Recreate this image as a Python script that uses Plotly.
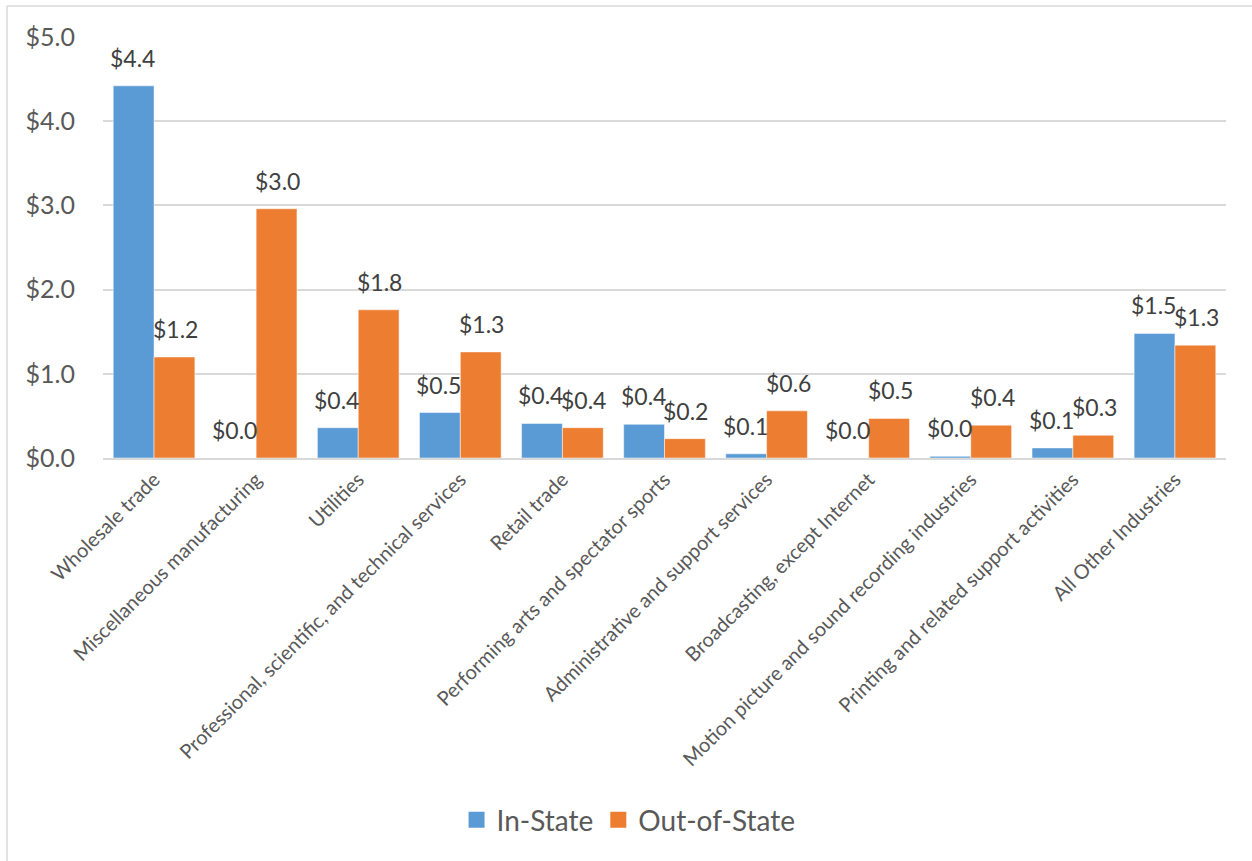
import plotly.graph_objects as go

categories = [
    "Wholesale trade",
    "Miscellaneous manufacturing",
    "Utilities",
    "Professional, scientific, and technical services",
    "Retail trade",
    "Performing arts and spectator sports",
    "Administrative and support services",
    "Broadcasting, except Internet",
    "Motion picture and sound recording industries",
    "Printing and related support activities",
    "All Other Industries",
]
in_state = [4.42, 0.0, 0.36, 0.54, 0.41, 0.40, 0.05, 0.0, 0.02, 0.12, 1.48]
out_state = [1.20, 2.96, 1.76, 1.26, 0.36, 0.23, 0.56, 0.47, 0.39, 0.27, 1.34]
y_ticks = [0, 1, 2, 3, 4, 5]
y_tick_labels = ["$0.0", "$1.0", "$2.0", "$3.0", "$4.0", "$5.0"]

FONT = "Lato"
GREY = "#595959"
BLUE = "#5b9bd5"
ORANGE = "#ed7d31"

L, R, T, B = 103, 26, 37, 403
W, H = 1252, 861
pw, ph = W - L - R, H - T - B
BARGAP = 0.2
bar_px = pw / len(categories) * (1 - BARGAP) / 2


def px_x(x):
    return (x - L) / pw


def px_y(y):
    return (H - B - y) / ph


fig = go.Figure()
series = [("In-State", in_state, BLUE, -1), ("Out-of-State", out_state, ORANGE, 1)]
annotations = []
for name, vals, color, side in series:
    fig.add_trace(go.Bar(
        x=categories, y=vals, name=name, showlegend=False,
        marker=dict(color=color, line=dict(color="white", width=0.5)),
    ))
    # legend proxy with larger square
    fig.add_trace(go.Scatter(
        x=[None], y=[None], mode="markers", name=name,
        marker=dict(symbol="square", size=18, color=color),
    ))
    for c, v in zip(categories, vals):
        annotations.append(dict(
            x=c, y=v, xref="x", yref="y", text=f"${v:.1f}",
            showarrow=False, xanchor="center", yanchor="bottom",
            xshift=side * (bar_px / 2 + 1), yshift=12,
            font=dict(family=FONT, size=23, color="#404040"),
        ))

fig.update_layout(
    width=W, height=H,
    margin=dict(l=L, r=R, t=T, b=B, pad=0),
    plot_bgcolor="white", paper_bgcolor="white",
    barmode="group", bargap=BARGAP, bargroupgap=0,
    font=dict(family=FONT, color=GREY),
    showlegend=True,
    legend=dict(orientation="h", x=0.468, xanchor="center", y=px_y(820), yanchor="middle",
                font=dict(family=FONT, size=28, color=GREY), itemwidth=30,
                traceorder="normal"),
    xaxis=dict(tickangle=-45, tickfont=dict(family=FONT, size=20, color=GREY),
               showgrid=False, showline=True, linecolor="#d9d9d9", linewidth=2,
               ticks=""),
    yaxis=dict(range=[0, 5], tickvals=y_ticks, ticktext=y_tick_labels,
               tickfont=dict(family=FONT, size=25, color=GREY),
               showgrid=True, gridcolor="#d9d9d9", gridwidth=1.5,
               zeroline=False, showline=False, ticks="", ticklabelstandoff=27),
    annotations=annotations,
    shapes=[
        dict(type="line", xref="paper", yref="paper",
             x0=px_x(7), x1=px_x(7), y0=px_y(6), y1=px_y(870),
             line=dict(color="#d9d9d9", width=1.5)),
        dict(type="line", xref="paper", yref="paper",
             x0=px_x(7), x1=px_x(1260), y0=px_y(6), y1=px_y(6),
             line=dict(color="#d9d9d9", width=1.5)),
    ],
)

fig.write_html("out.html", config={"displayModeBar": False},
               post_script="document.body.style.margin='0';")
